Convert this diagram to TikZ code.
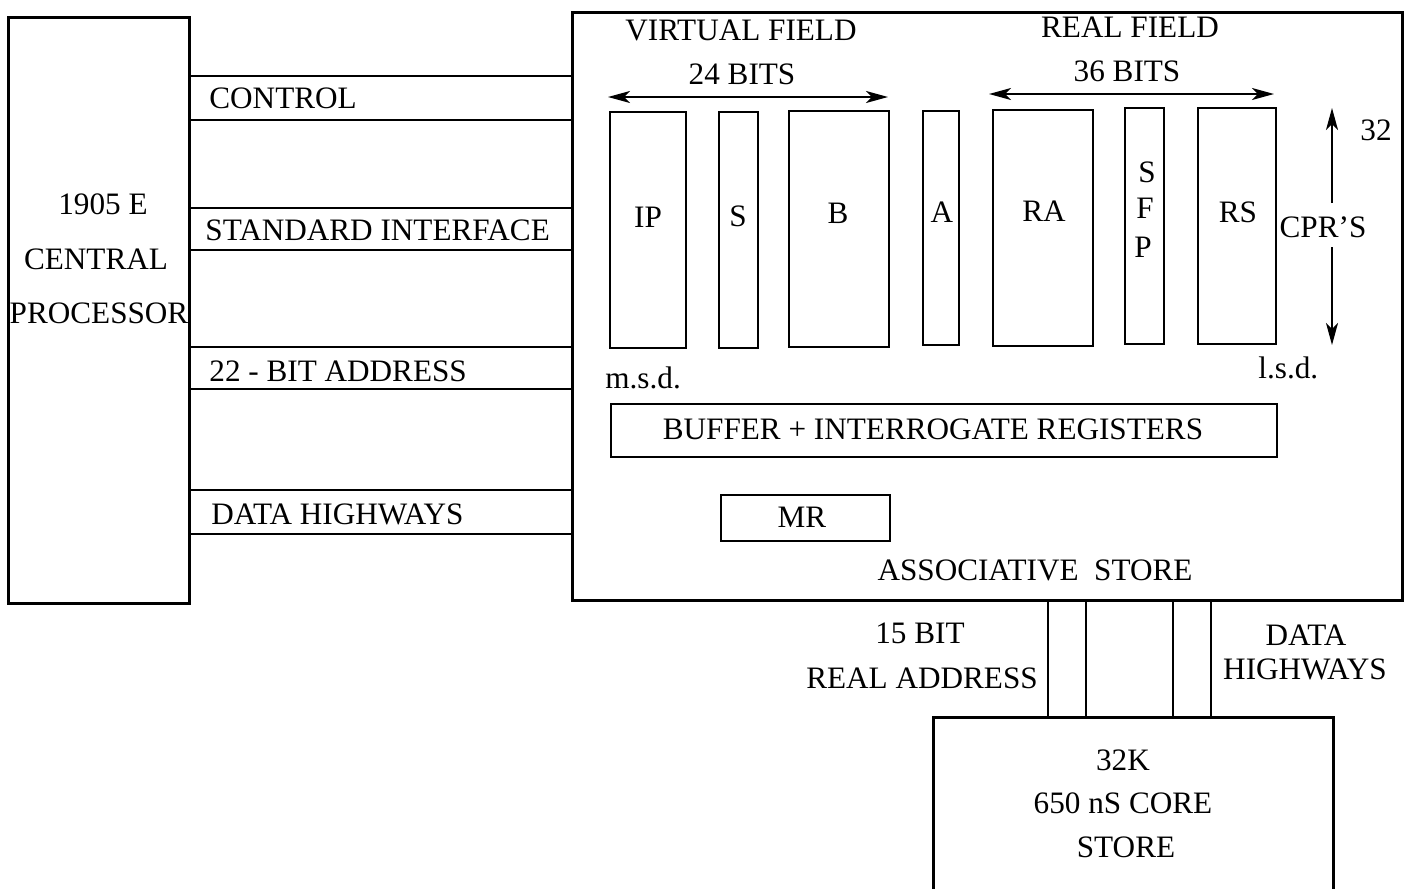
\documentclass[tikz,border=0pt]{standalone}
\usepackage{fontspec}
\setmainfont{Liberation Serif}
\usetikzlibrary{fit,arrows.meta}
\begin{document}
\begin{tikzpicture}[x=0.5pt,y=-0.5pt,
  outer/.style={draw, line width=1.5pt, inner sep=0pt, outer sep=0pt},
  reg/.style={draw, line width=1pt, inner sep=0pt, outer sep=0pt},
  lbl/.style={inner sep=0pt, anchor=base, font=\fontsize{15.6}{18}\selectfont},
  lblw/.style={lbl, anchor=base west},
  bus/.style={line width=1pt},
  tip/.tip={Stealth[length=11pt,width=6pt,inset=3pt]},
  dimarrow/.style={line width=0.9pt, tip-tip},
  uparrow/.style={line width=0.9pt, -tip}]
\useasboundingbox (0,0) rectangle (1414,889);
% main boxes
\node[outer, fit={(8,17) (189,603)}] (cpu) {};
\node[outer, fit={(572,12) (1402,600)}] (assoc) {};
\node[outer, fit={(933,717) (1333,905)}] (core) {};
% CPU text
\node[lbl] (cpu1) at (103,214) {1905 E};
\node[lbl] (cpu2) at (96,269) {CENTRAL};
\node[lbl] (cpu3) at (99,323) {PROCESSOR};
% bus level coordinates
\coordinate (c1) at (0,76);  \coordinate (c2) at (0,120);
\coordinate (s1) at (0,208); \coordinate (s2) at (0,250);
\coordinate (a1) at (0,347); \coordinate (a2) at (0,389);
\coordinate (d1) at (0,490); \coordinate (d2) at (0,534);
\foreach \c in {c1,c2,s1,s2,a1,a2,d1,d2}
  \draw[bus] (cpu.east |- \c) -- (assoc.west |- \c);
\node[lblw] (lcontrol) at (209,108) {CONTROL};
\node[lblw] (lstd) at (205,240) {STANDARD INTERFACE};
\node[lblw] (laddr) at (209,381) {22 - BIT ADDRESS};
\node[lblw] (ldata) at (211,524) {DATA HIGHWAYS};
% field headings
\node[lbl] (vf) at (741,40) {VIRTUAL FIELD};
\node[lbl] (vb) at (742,84) {24 BITS};
\node[lbl] (rf) at (1130,37) {REAL FIELD};
\node[lbl] (rb) at (1127,81) {36 BITS};
\coordinate (v1) at (608,97); \coordinate (v2) at (888,97);
\coordinate (r1) at (989,94); \coordinate (r2) at (1274,94);
\draw[dimarrow] (v1) -- (v2);
\draw[dimarrow] (r1) -- (r2);
% registers
\node[reg, fit={(610,112) (686,348)}] (ip) {};
\node[reg, fit={(719,112) (758,348)}] (sreg) {};
\node[reg, fit={(789,111) (889,347)}] (breg) {};
\node[reg, fit={(923,111) (959,345)}] (areg) {};
\node[reg, fit={(993,110) (1093,346)}] (ra) {};
\node[reg, fit={(1125,108) (1164,344)}] (sfp) {};
\node[reg, fit={(1198,108) (1276,344)}] (rs) {};
\node[lbl] (tip1) at (648,227) {IP};
\node[lbl] (ts) at (738,226) {S};
\node[lbl] (tb) at (838,223) {B};
\node[lbl] (ta) at (942,222) {A};
\node[lbl] (tra) at (1044,221) {RA};
\node[lbl] (tsfp1) at (1147,182) {S};
\node[lbl] (tsfp2) at (1145,218) {F};
\node[lbl] (tsfp3) at (1143,257) {P};
\node[lbl] (trs) at (1238,222) {RS};
% CPR'S arrow
\node[lbl] (cprs) at (1323,237) {CPR'S};
\node[lblw] (n32) at (1360,140) {32};
\coordinate (cup) at (1332,108);
\coordinate (cdn) at (1332,345);
\coordinate (cg1) at (1332,203);
\coordinate (cg2) at (1332,247);
\draw[uparrow] (cg1) -- (cup);
\draw[uparrow] (cg2) -- (cdn);
\node[lblw] (msd) at (605,388) {m.s.d.};
\node[lblw] (lsd) at (1258,378) {l.s.d.};
% buffer and MR
\node[reg, fit={(611,404) (1277,457)}] (buf) {};
\node[lbl] (tbuf) at (933,439) {BUFFER + INTERROGATE REGISTERS};
\node[reg, fit={(721,495) (890,541)}] (mr) {};
\node[lbl] (tmr) at (802,527) {MR};
\node[lbl] (tassoc) at (1035,580) {ASSOCIATIVE\ \ STORE};
% links to core store
\foreach \x in {1048,1086,1173,1211}
  \draw[bus] (assoc.south -| \x,0) -- (core.north -| \x,0);
\node[lbl] (t15) at (920,643) {15 BIT};
\node[lbl] (tra2) at (922,688) {REAL ADDRESS};
\node[lbl] (tdh1) at (1306,645) {DATA};
\node[lbl] (tdh2) at (1305,679) {HIGHWAYS};
\node[lbl] (tc1) at (1123,770) {32K};
\node[lbl] (tc2) at (1123,813) {650 nS CORE};
\node[lbl] (tc3) at (1126,857) {STORE};
\end{tikzpicture}
\end{document}
